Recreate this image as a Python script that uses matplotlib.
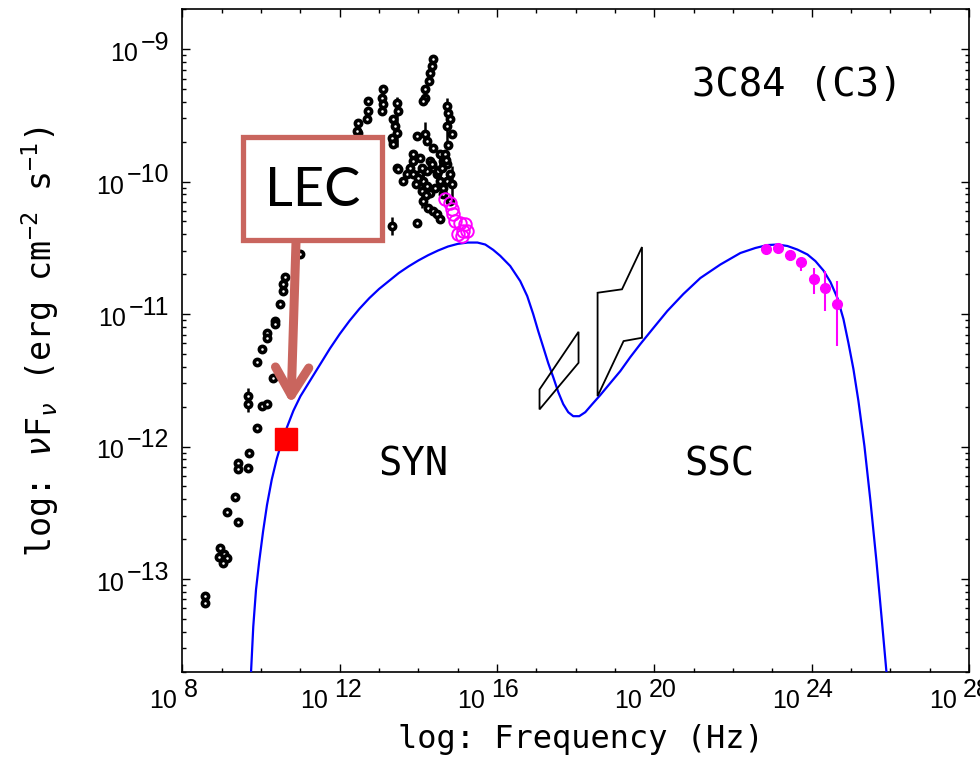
import matplotlib
matplotlib.use("Agg")
import matplotlib.pyplot as plt
from matplotlib.patches import Rectangle, Polygon
from matplotlib.ticker import LogLocator, NullFormatter, FixedLocator
import numpy as np

plt.rcParams["mathtext.fontset"] = "custom"
plt.rcParams["mathtext.rm"] = "DejaVu Sans Mono"
plt.rcParams["mathtext.it"] = "DejaVu Sans Mono:italic"

MONO = "DejaVu Sans Mono"
TICKFONT = "Liberation Sans"
LEC_COLOR = "#C9655E"

# SSC model curve, log10(nu) and log10(nu F_nu)
model_lognu = [9.69, 9.743, 9.80, 9.87, 9.95, 10.05, 10.15, 10.27, 10.40, 10.52,
               10.65, 10.82, 11.00, 11.25, 11.50, 11.75, 12.00, 12.25, 12.50, 12.75,
               13.00, 13.25, 13.50, 13.75, 14.00, 14.25, 14.50, 14.75, 15.00, 15.25,
               15.50, 15.70, 15.90, 16.079, 16.333, 16.588, 16.766, 16.918, 17.046, 17.173,
               17.300, 17.427, 17.555, 17.682, 17.809, 17.936, 18.089, 18.242, 18.420, 18.623,
               18.878, 19.132, 19.387, 19.641, 19.972, 20.328, 20.735, 21.168, 21.677, 22.186,
               22.567, 22.873, 23.127, 23.382, 23.636, 23.891, 24.094, 24.298, 24.476, 24.654,
               24.807, 24.934, 25.061, 25.188, 25.341, 25.494, 25.646, 25.774, 25.901, 25.977]
model_logf = [-14.00, -13.705, -13.36, -13.08, -12.87, -12.64, -12.44, -12.25, -12.09, -11.97,
              -11.86, -11.73, -11.62, -11.50, -11.38, -11.26, -11.15, -11.05, -10.96, -10.88,
              -10.81, -10.75, -10.69, -10.64, -10.595, -10.555, -10.52, -10.49, -10.47, -10.46,
              -10.46, -10.475, -10.515, -10.56, -10.637, -10.751, -10.864, -11.000, -11.129, -11.249,
              -11.370, -11.476, -11.589, -11.680, -11.741, -11.771, -11.771, -11.741, -11.680, -11.612,
              -11.521, -11.431, -11.325, -11.227, -11.106, -10.977, -10.849, -10.728, -10.626, -10.539,
              -10.501, -10.479, -10.475, -10.486, -10.513, -10.550, -10.600, -10.671, -10.758, -10.879,
              -11.038, -11.219, -11.416, -11.657, -11.998, -12.413, -12.866, -13.282, -13.705, -13.962]

# archival radio-to-optical points (black)
arch_lognu = [8.573, 8.573, 8.954, 9.056, 9.132, 9.031, 8.929, 9.125, 9.420, 9.336,
              9.420, 9.420, 9.674, 9.700, 9.888, 9.674, 9.674, 10.015, 10.158, 10.295,
              9.903, 10.015, 10.158, 10.158, 10.354, 10.354, 10.481, 10.565, 10.565, 10.608,
              10.990, 13.323, 12.466, 13.356, 13.450,
              14.382, 14.341, 14.298, 14.280, 14.171, 14.171, 14.127, 13.109, 13.069, 13.109,
              13.069, 12.728, 12.728, 12.687, 12.473, 12.433, 12.473, 13.450, 13.491, 13.364,
              13.407, 13.450, 13.323, 13.364, 14.723, 14.763, 14.807, 14.723, 14.850, 13.959,
              14.171, 14.214, 14.382, 13.873, 13.873, 13.789, 14.043, 14.298, 14.552, 14.636,
              13.491, 13.705, 13.873, 14.043, 14.214, 14.382, 13.618, 14.127, 14.214, 14.087,
              14.298, 14.679, 14.723, 14.807, 14.723, 14.636, 14.850, 14.468, 14.552, 14.127,
              14.255, 14.382, 14.468, 14.552, 13.959, 14.636, 14.807,
              14.00, 14.10, 14.35, 14.50, 14.60, 14.76, 13.95, 14.20, 14.42, 14.70]
arch_logf = [-13.128, -13.181, -12.766, -12.813, -12.844, -12.881, -12.836, -12.496, -12.572, -12.383,
             -12.124, -12.173, -12.161, -12.048, -11.859, -11.620, -11.680, -11.695, -11.678, -11.484,
             -11.360, -11.267, -11.141, -11.179, -11.053, -11.078, -10.924, -10.826, -10.776, -10.720,
             -10.549, -10.335, -9.632, -9.693, -9.895,
             -9.076, -9.126, -9.177, -9.240, -9.302, -9.366, -9.391, -9.302, -9.366, -9.416,
             -9.466, -9.391, -9.466, -9.529, -9.555, -9.617, -9.668, -9.403, -9.466, -9.529,
             -9.580, -9.630, -9.668, -9.718, -9.428, -9.479, -9.529, -9.580, -9.642, -9.655,
             -9.642, -9.693, -9.743, -9.793, -9.844, -9.895, -9.819, -9.844, -9.793, -9.844,
             -9.907, -9.944, -9.944, -9.944, -9.920, -9.895, -9.995, -9.995, -10.033, -10.071,
             -10.083, -9.793, -9.869, -9.944, -9.995, -10.046, -10.020, -9.944, -9.995, -10.146,
             -10.197, -10.222, -10.247, -10.284, -10.310, -10.096, -10.146,
             -9.97, -9.90, -9.87, -9.92, -9.90, -9.72, -10.02, -10.10, -10.05, -9.84]

# a few of the black points carry visible error bars: nu, low, high
bar_lognu = [13.323, 9.674, 14.723, 13.450, 14.087, 12.466, 14.850, 13.109, 14.171, 14.552]
bar_low = [-10.40, -11.74, -9.70, -9.74, -10.20, -9.72, -10.12, -9.47, -9.72, -10.06]
bar_high = [-10.27, -11.56, -9.37, -9.36, -9.95, -9.55, -9.88, -9.27, -9.55, -9.76]

# UV points (magenta open circles)
uv_lognu = [14.679, 14.807, 14.850, 14.891, 14.934, 15.061, 15.188, 15.145, 15.018, 15.232, 15.104]
uv_logf = [-10.133, -10.159, -10.209, -10.247, -10.297, -10.310, -10.322, -10.373, -10.398, -10.373, -10.411]

# Fermi-LAT points (magenta filled) with low / high ends of the bars
lat_lognu = [22.848, 23.135, 23.440, 23.738, 24.051, 24.349, 24.646]
lat_logf = [-10.511, -10.499, -10.556, -10.607, -10.733, -10.801, -10.927]
lat_low = [-10.55, -10.52, -10.57, -10.675, -10.851, -10.977, -11.242]
lat_high = [-10.50, -10.49, -10.55, -10.60, -10.650, -10.675, -10.751]

# X-ray bowties, outline vertices
xray_lognu = [17.079, 18.071, 18.071, 17.079]
xray_logf = [-11.569, -11.134, -11.368, -11.720]
bat_lognu = [18.555, 19.176, 19.684, 19.684, 19.216, 18.555]
bat_logf = [-10.839, -10.813, -10.494, -11.179, -11.204, -11.620]

# LEC point (red square)
lec_lognu = [10.62]
lec_logf = [-11.943]

x_major = [8, 12, 16, 20, 24, 28]
y_major = [-9, -10, -11, -12, -13]


def p(v):
    return 10.0 ** np.asarray(v)


fig = plt.figure(figsize=(9.8, 7.58), dpi=100)
ax = fig.add_axes([0.1862, 0.1141, 0.8026, 0.8736])

ax.plot(p(model_lognu), p(model_logf), color="#0000FF", lw=1.6, zorder=3)

ax.add_patch(Polygon(np.column_stack([p(xray_lognu), p(xray_logf)]), closed=True,
                     fill=False, ec="black", lw=1.3, zorder=4))
ax.add_patch(Polygon(np.column_stack([p(bat_lognu), p(bat_logf)]), closed=True,
                     fill=False, ec="black", lw=1.3, zorder=4))

ax.vlines(p(bar_lognu), p(bar_low), p(bar_high), color="black", lw=1.8, zorder=4)
ax.plot(p(arch_lognu), p(arch_logf), "o", ms=4.5, mfc="white", mec="black", mew=2.6,
        ls="none", zorder=5)

ax.plot(p(uv_lognu), p(uv_logf), "o", ms=9, mfc="none", mec="#FF00FF", mew=1.4,
        ls="none", zorder=6)

ax.vlines(p(lat_lognu), p(lat_low), p(lat_high), color="#FF00FF", lw=1.5, zorder=6)
ax.plot(p(lat_lognu), p(lat_logf), "o", ms=7, mfc="#FF00FF", mec="#FF00FF",
        ls="none", zorder=6)

ax.plot(p(lec_lognu), p(lec_logf), "s", ms=16, mfc="#FF0000", mec="#FF0000", zorder=7)

ax.set_xscale("log")
ax.set_yscale("log")
ax.set_xlim(1e8, 1e28)
ax.set_ylim(2e-14, 2e-9)

ax.xaxis.set_major_locator(FixedLocator(p(x_major)))
ax.xaxis.set_minor_locator(FixedLocator(p(np.arange(8, 29))))
ax.xaxis.set_minor_formatter(NullFormatter())
ax.yaxis.set_major_locator(LogLocator(base=10, numticks=20))
ax.yaxis.set_minor_locator(LogLocator(base=10, subs=np.arange(2, 10), numticks=20))
ax.yaxis.set_minor_formatter(NullFormatter())
ax.tick_params(which="both", direction="in", top=True, right=True,
               labelbottom=False, labelleft=False, width=1.0)
ax.tick_params(which="major", length=6)
ax.tick_params(which="minor", length=3)
for s in ax.spines.values():
    s.set_linewidth(1.2)

# power-of-ten tick labels with an exponent as big as the base, as in the original
fs = 18
x_labels = []
for e in x_major:
    base = ax.annotate("10", xy=(10.0 ** e, 0), xycoords=("data", "axes fraction"),
                       xytext=(0, -26.6), textcoords="offset points", ha="left",
                       va="baseline", fontsize=fs, family=TICKFONT,
                       annotation_clip=False)
    sup = ax.annotate(str(e), xy=(1, 0), xycoords=base, xytext=(4.5, 8.0),
                      textcoords="offset points", ha="left", va="bottom",
                      fontsize=fs, family=TICKFONT, annotation_clip=False)
    x_labels.append((base, sup))

for e in y_major:
    sup = ax.annotate("\u2212" + str(-e), xy=(0, 10.0 ** e), xycoords=("axes fraction", "data"),
                      xytext=(-9.5, -0.6), textcoords="offset points", ha="right",
                      va="baseline", fontsize=fs, family=TICKFONT,
                      annotation_clip=False)
    ax.annotate("10", xy=(0, 0), xycoords=sup, xytext=(-2, -8.0),
                textcoords="offset points", ha="right", va="bottom",
                fontsize=fs, family=TICKFONT, annotation_clip=False)

# centre each x label a little to the left of its tick
fig.canvas.draw()
r = fig.canvas.get_renderer()
for base, sup in x_labels:
    b = base.get_window_extent(r)
    s = sup.get_window_extent(r)
    total = (s.x1 - b.x0) * 72 / fig.dpi
    base.xyann = (-total / 2 - 6.5, -26.6)

ax.text(0.781, 0.886, "3C84 (C3)", transform=ax.transAxes, ha="center", va="center",
        fontsize=28, family=MONO)
ax.text(0.294, 0.312, "SYN", transform=ax.transAxes, ha="center", va="center",
        fontsize=28, family=MONO)
ax.text(0.683, 0.312, "SSC", transform=ax.transAxes, ha="center", va="center",
        fontsize=28, family=MONO)

fig.text(0.593, 0.024, "log: Frequency (Hz)", ha="center", va="center",
         fontsize=23, family=MONO)
fig.text(0.041, 0.55, r"log: $\nu$F$_\nu$ (erg cm$^{-2}$ s$^{-1}$)", rotation=90,
         ha="center", va="center", fontsize=24, family=MONO)

# LEC call-out box and arrow (figure pixels of the original layout)
W, H = 980.0, 758.0
fig.add_artist(Rectangle((243 / W, 1 - 240 / H), 139 / W, 103 / H, transform=fig.transFigure,
                         fc="white", ec=LEC_COLOR, lw=3.8, zorder=10))
fig.text(313 / W, 1 - 190 / H, "LEC", ha="center", va="center", fontsize=39,
         family="Lato", zorder=11)
ax.annotate("", xy=(291 / W, 1 - 404 / H), xycoords="figure fraction",
            xytext=(296 / W, 1 - 242 / H), textcoords="figure fraction",
            arrowprops=dict(arrowstyle="->, head_length=1.0, head_width=0.6",
                            lw=6.5, color=LEC_COLOR, mutation_scale=20,
                            capstyle="round", joinstyle="round",
                            shrinkA=0, shrinkB=0), zorder=10)

fig.savefig("out.png", dpi=100)
